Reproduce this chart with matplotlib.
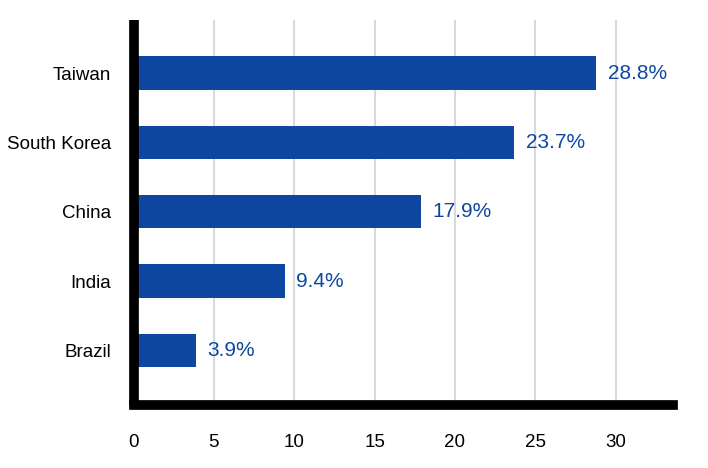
import matplotlib.pyplot as plt
import numpy as np

plt.rcParams['font.family'] = ['Liberation Sans', 'DejaVu Sans']

# data
countries = ['Brazil', 'India', 'China', 'South Korea', 'Taiwan']
shares = [3.9, 9.4, 17.9, 23.7, 28.8]
xticks = [0, 5, 10, 15, 20, 25, 30]

barColor = '#0d47a1'

fig = plt.figure(figsize=(7.08, 4.68), dpi=100)
ax = fig.add_axes([133.5 / 708, 1 - 404.5 / 468, (672.7 - 133.5) / 708, 384.5 / 468])

pos = np.arange(len(countries))
ax.barh(pos, shares, height=0.48, color=barColor, zorder=3)

for p, v in zip(pos, shares):
    ax.text(v + 0.7, p, '{}%'.format(v), va='center', ha='left',
            fontsize=15, color=barColor)

ax.set_xlim(0, 33.55)
ax.set_ylim(-0.78, 4.765)
ax.set_yticks(pos)
ax.set_yticklabels(countries, fontsize=13.5)
ax.set_xticks(xticks)
ax.set_xticklabels([str(t) for t in xticks], fontsize=13.5)
ax.tick_params(axis='both', length=0)
ax.tick_params(axis='y', pad=16)
ax.tick_params(axis='x', pad=21)

ax.grid(axis='x', color='#d9d9d9', linewidth=1.5, zorder=0)
ax.grid(axis='y', visible=False)

for side in ['top', 'right']:
    ax.spines[side].set_visible(False)
for side in ['left', 'bottom']:
    ax.spines[side].set_linewidth(7)
    ax.spines[side].set_color('black')
    ax.spines[side].set_zorder(5)
ax.spines['left'].set_capstyle('butt')
ax.spines['bottom'].set_capstyle('projecting')

fig.savefig('out.png', dpi=100)
